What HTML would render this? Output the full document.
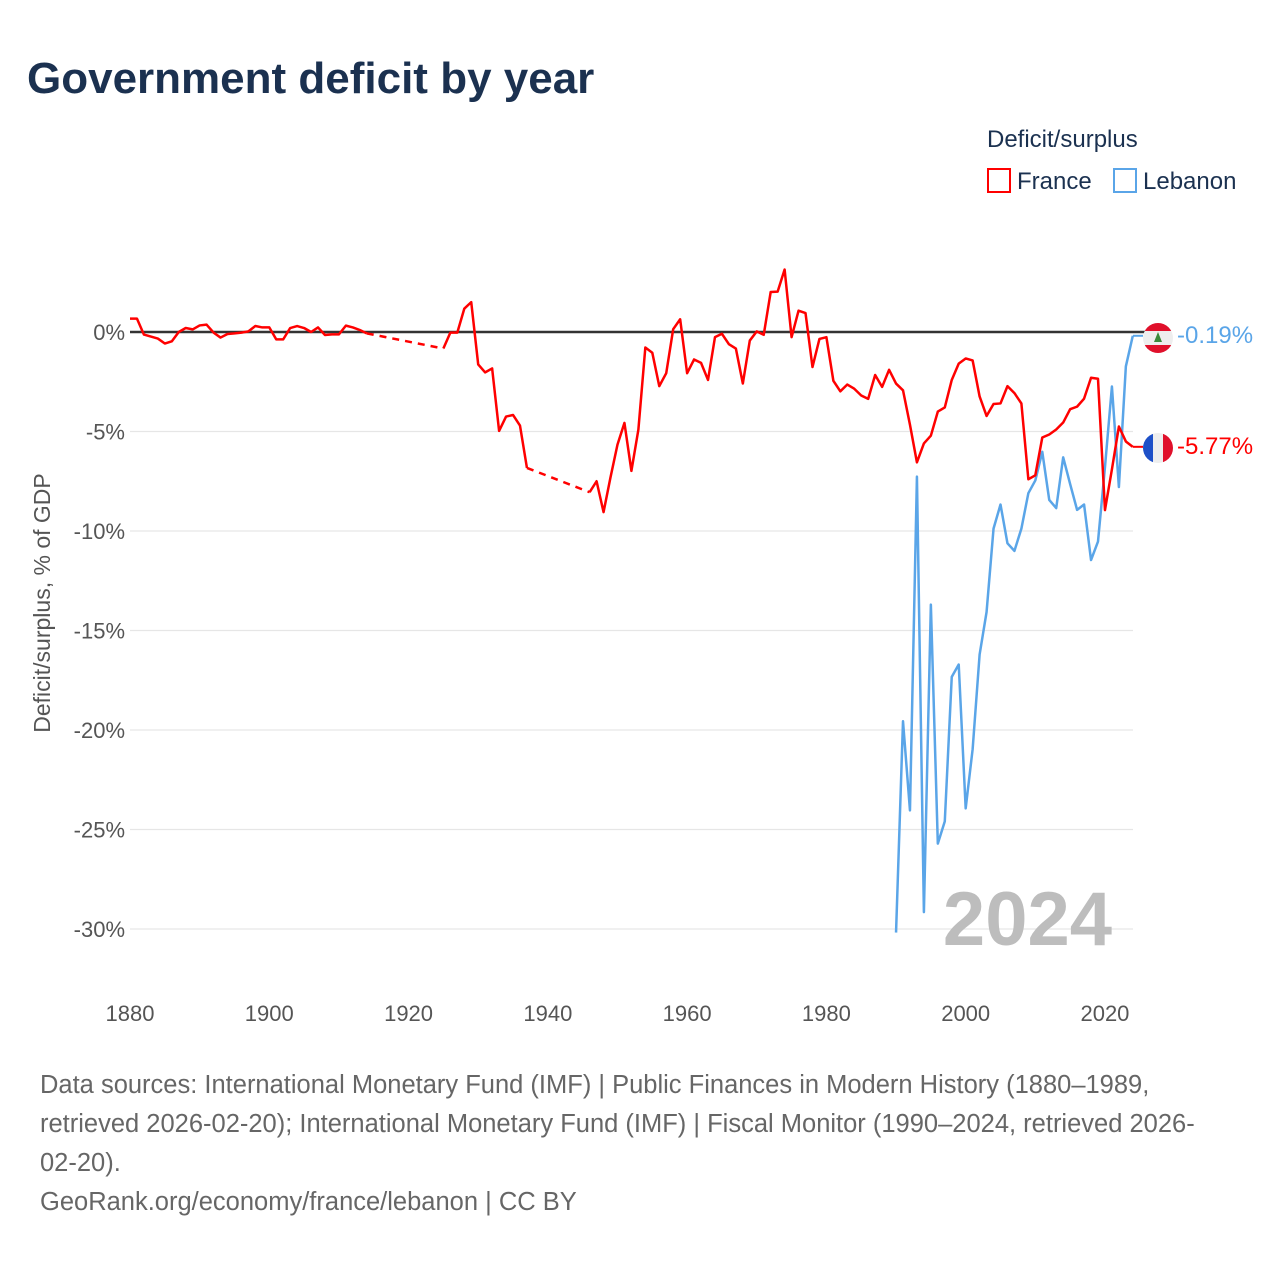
<!DOCTYPE html>
<html><head><meta charset="utf-8"><style>
body{margin:0;background:#fff;}
svg{display:block;font-family:"Liberation Sans",sans-serif;}
</style></head><body>
<svg id="chart" width="1280" height="1280" viewBox="0 0 1280 1280">
<text x="27" y="93" font-size="44" font-weight="bold" fill="#1b3150">Government deficit by year</text>
<text x="987" y="147" font-size="24" fill="#1b3150">Deficit/surplus</text>
<g>
<rect x="988" y="169" width="22" height="23" fill="#fff" stroke="#f00" stroke-width="2"/>
<text x="1017" y="189" font-size="24" fill="#1b3150">France</text></g>
<g>
<rect x="1114" y="169" width="22" height="23" fill="#fff" stroke="#5aa5e8" stroke-width="2"/>
<text x="1143" y="189" font-size="24" fill="#1b3150">Lebanon</text></g>
<g id="grid"></g>
<g id="yticks"></g>
<g id="xticks"></g>
<text transform="translate(50,603) rotate(-90)" text-anchor="middle" font-size="23" fill="#555">Deficit/surplus, % of GDP</text>
<text x="1112" y="945" text-anchor="end" font-size="76" font-weight="bold" fill="#bdbdbd">2024</text>
<g id="series"></g>
<g id="ends"></g>
<g font-size="25.5" fill="#666">
<text x="40" y="1093">Data sources: International Monetary Fund (IMF) | Public Finances in Modern History (1880–1989,</text>
<text x="40" y="1132">retrieved 2026-02-20); International Monetary Fund (IMF) | Fiscal Monitor (1990–2024, retrieved 2026-</text>
<text x="40" y="1171">02-20).</text>
<text x="40" y="1210">GeoRank.org/economy/france/lebanon | CC BY</text>
</g>
</svg>
<script>
const yTicks=[0,-5,-10,-15,-20,-25,-30];
const xTicks=[1880,1900,1920,1940,1960,1980,2000,2020];
const franceStart=1880;
const france=[0.67,0.67,-0.13,-0.23,-0.33,-0.58,-0.47,0,0.2,0.13,0.33,0.37,-0.03,-0.28,-0.1,-0.07,-0.03,0.03,0.3,0.23,0.23,-0.37,-0.37,0.2,0.3,0.2,0,0.23,-0.15,-0.12,-0.12,0.32,0.23,0.1,-0.07,
null,null,null,null,null,null,null,null,null,null,
-0.83,-0.03,-0.03,1.17,1.5,-1.63,-2.03,-1.83,-4.97,-4.25,-4.17,-4.7,-6.83,
null,null,null,null,null,null,null,null,
-8.05,-7.5,-9.05,-7.3,-5.66,-4.57,-6.98,-4.91,-0.78,-1.04,-2.72,-2.07,0.14,0.64,-2.07,-1.38,-1.55,-2.41,-0.26,-0.09,-0.61,-0.83,-2.59,-0.43,0.03,-0.14,2.01,2.03,3.14,-0.26,1.07,0.95,-1.76,-0.35,-0.26,-2.45,-2.98,-2.64,-2.85,-3.19,-3.36,-2.16,-2.76,-1.9,-2.59,-2.93,-4.66,-6.55,-5.6,-5.21,-4.0,-3.79,-2.41,-1.59,-1.33,-1.43,-3.24,-4.22,-3.62,-3.59,-2.72,-3.07,-3.59,-7.4,-7.2,-5.3,-5.15,-4.9,-4.55,-3.88,-3.75,-3.35,-2.3,-2.35,-8.95,-6.9,-4.75,-5.5,-5.77];
const lebanonStart=1990;
const lebanon=[-30.18,-19.56,-24.04,-7.27,-29.15,-13.7,-25.71,-24.59,-17.33,-16.71,-23.94,-20.96,-16.21,-14.07,-9.88,-8.67,-10.62,-11.0,-9.88,-8.1,-7.46,-6.02,-8.44,-8.85,-6.3,-7.64,-8.94,-8.67,-11.46,-10.53,-6.8,-2.74,-7.79,-1.73,-0.19];
const NS='http://www.w3.org/2000/svg';
const X=y=>130+(y-1880)*6.964;
const Y=v=>332-19.9*v;
function mk(t,a,p){const e=document.createElementNS(NS,t);for(const k in a)e.setAttribute(k,a[k]);p.appendChild(e);return e;}
const grid=document.getElementById('grid'),yt=document.getElementById('yticks'),xt=document.getElementById('xticks');
yTicks.forEach(v=>{
 if(v!==0){const l=mk('line',{x1:130,x2:1133,y1:Y(v),y2:Y(v),stroke:'#e6e6e6','stroke-width':1.3},grid);
 
 }
 const t=mk('text',{x:125,y:Y(v)+8,'text-anchor':'end','font-size':22,fill:'#555'},yt);
 t.textContent=v+'%';
 
 
});
xTicks.forEach(y=>{
 const t=mk('text',{x:X(y),y:1021,'text-anchor':'middle','font-size':22,fill:'#555'},xt);
 t.textContent=y;
 
 
});
const zl=mk('line',{x1:130,x2:1145,y1:Y(0),y2:Y(0),stroke:'#333','stroke-width':2.5},grid);


const sg=document.getElementById('series');
function draw(vals,start,color,name){
 let segs=[],cur=[],last=null;
 vals.forEach((v,i)=>{
  if(v===null){if(cur.length){segs.push(cur);cur=[];}return;}
  const p=[X(start+i),Y(v)];
  if(!cur.length&&last){
   const d=mk('path',{d:'M'+last.join(',')+'L'+p.join(','),fill:'none',stroke:color,'stroke-width':2.5,'stroke-dasharray':'7,6'},sg);
   
   
  }
  cur.push(p);last=p;
 });
 if(cur.length)segs.push(cur);
 segs.forEach(s=>{
  const e=mk('path',{d:'M'+s.map(p=>p.join(',')).join('L'),fill:'none',stroke:color,'stroke-width':2.5,'stroke-linejoin':'round'},sg);
  
  
 });
}
draw(lebanon,lebanonStart,'#5aa5e8','lebanon');
draw(france,franceStart,'#f00','france');
const ends=document.getElementById('ends');
ends.innerHTML=`
<line x1="1133" y1="${Y(-0.19)}" x2="1143" y2="${Y(-0.19)}" stroke="#5aa5e8" stroke-width="2"/>
<line x1="1133" y1="${Y(-5.77)}" x2="1143" y2="${Y(-5.77)}" stroke="#f00" stroke-width="2"/>
<g>
<clipPath id="cl"><circle cx="1158" cy="338" r="15"/></clipPath>
<g clip-path="url(#cl)"><rect x="1143" y="323" width="30" height="30" fill="#eee"/><rect x="1143" y="323" width="30" height="8" fill="#e0102b"/><rect x="1143" y="345" width="30" height="8" fill="#e0102b"/><polygon points="1158,332 1154,342 1162,342" fill="#3a8a3a"/></g></g>
<g>
<clipPath id="cf"><circle cx="1158" cy="448" r="15"/></clipPath>
<g clip-path="url(#cf)"><rect x="1143" y="433" width="10" height="30" fill="#1e50c8"/><rect x="1153" y="433" width="10" height="30" fill="#eee"/><rect x="1163" y="433" width="10" height="30" fill="#e0102b"/></g></g>
<text x="1177" y="343" font-size="24" fill="#5aa5e8">-0.19%</text>
<text x="1177" y="454" font-size="24" fill="#f00">-5.77%</text>`;
</script>
</body></html>
